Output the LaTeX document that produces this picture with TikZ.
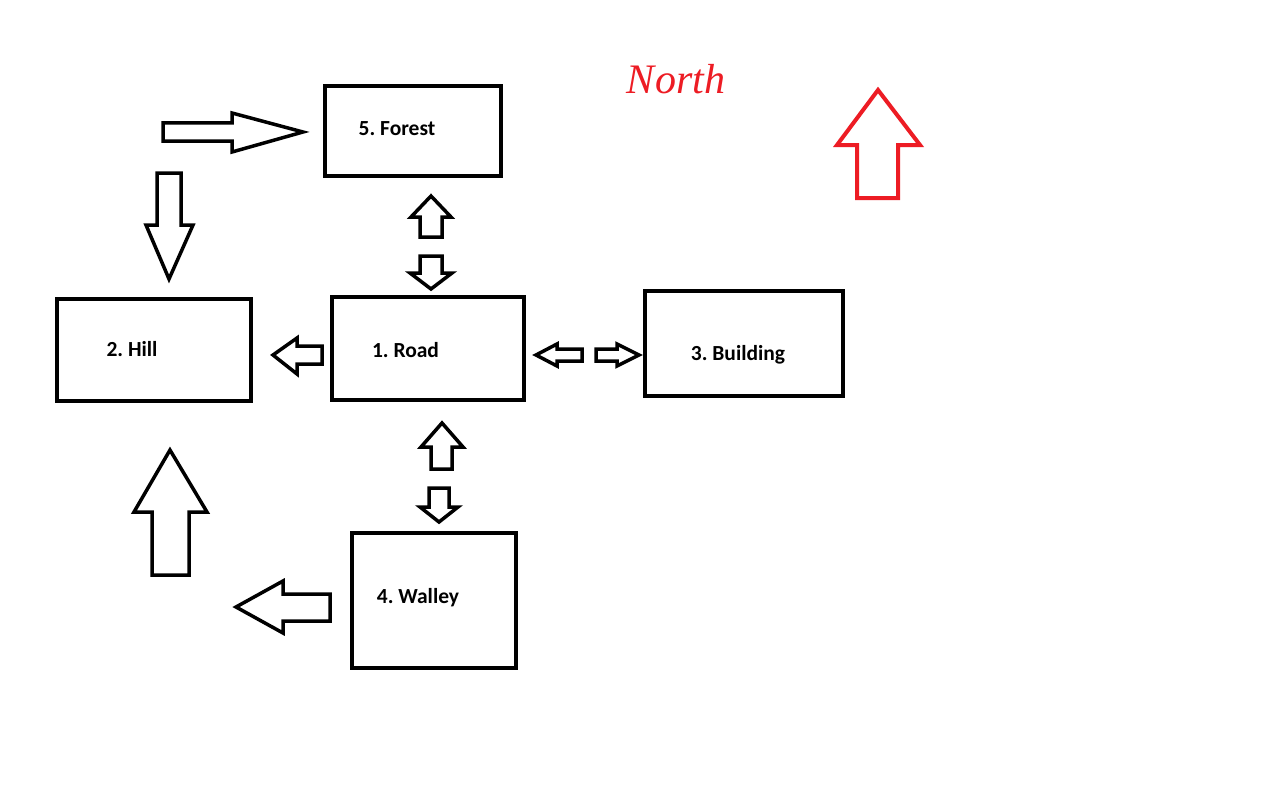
\documentclass[tikz,border=0pt]{standalone}
\usepackage{fontspec}
\setmainfont{Carlito}
\newfontfamily\northfont{Liberation Serif}
\definecolor{nred}{RGB}{237,28,36}
\begin{document}
\frenchspacing
\begin{tikzpicture}[x=1pt,y=-1pt,
  box/.style={draw=black,line width=4pt,inner sep=0pt},
  lbl/.style={font=\fontsize{21.5}{25}\selectfont\bfseries,inner sep=0pt,anchor=center},
  barrow/.style={draw=black,line width=3.5pt,line join=miter,fill=white},
  narrow/.style={draw=nred,line width=4pt,line join=miter}]
\useasboundingbox (0,0) rectangle (1284,789);
\fill[white] (0,0) rectangle (1284,789);
% boxes
\node[box,minimum width=176pt,minimum height=90pt] (forest) at (413,131) {};
\node[box,minimum width=194pt,minimum height=102pt] (hill) at (154,350) {};
\node[box,minimum width=192pt,minimum height=103pt] (road) at (428,348.5) {};
\node[box,minimum width=198pt,minimum height=105pt] (building) at (744,343.5) {};
\node[box,minimum width=164pt,minimum height=135pt] (walley) at (433.5,600) {};
% labels
\node[lbl] (forestlbl) at (397,129) {5. Forest};
\node[lbl] (hilllbl) at (132,349) {2. Hill};
\node[lbl] (roadlbl) at (405.5,350) {1. Road};
\node[lbl] (buildinglbl) at (738,355) {3. Building};
\node[lbl] (walleylbl) at (418,598) {4. Walley};
% North
\node[font=\fontsize{42}{46}\selectfont\northfont\itshape,text=nred,inner sep=0pt] (northlbl) at (676,79) {North};
\draw[narrow] (878,90) -- (920,145) -- (898,145) -- (898,198) -- (857,198) -- (857,145) -- (837,145) -- cycle;
% arrow: top-left right-pointing
\draw[barrow] (163,123) -- (232,123) -- (232,113) -- (303,132) -- (232,152) -- (232,141) -- (163,141) -- cycle;
% arrow: down to hill
\draw[barrow] (157,173) -- (181,173) -- (181,225) -- (193,225) -- (169,279) -- (146,225) -- (157,225) -- cycle;
% forest-road double
\draw[barrow] (431,196) -- (451,217) -- (442,217) -- (442,237) -- (420,237) -- (420,217) -- (411,217) -- cycle;
\draw[barrow] (420,256) -- (442,256) -- (442,273) -- (452,273) -- (431,289) -- (410,273) -- (420,273) -- cycle;
% road to hill
\draw[barrow] (273,355) -- (297,338) -- (297,346) -- (322,346) -- (322,364) -- (297,364) -- (297,374) -- cycle;
% road-building double
\draw[barrow] (536,355) -- (557,344) -- (557,349) -- (582,349) -- (582,361) -- (557,361) -- (557,366) -- cycle;
\draw[barrow] (596,349) -- (617,349) -- (617,344) -- (639,355) -- (617,366) -- (617,361) -- (596,361) -- cycle;
% road-walley double
\draw[barrow] (442,423) -- (463,447) -- (452,447) -- (452,469) -- (431,469) -- (431,447) -- (421,447) -- cycle;
\draw[barrow] (429,488) -- (449,488) -- (449,507) -- (458,507) -- (439,522) -- (420,507) -- (429,507) -- cycle;
% up arrow to hill
\draw[barrow] (170,450) -- (207,512) -- (189,512) -- (189,575) -- (152,575) -- (152,512) -- (134,512) -- cycle;
% walley left arrow
\draw[barrow] (236,607) -- (283,581) -- (283,594) -- (330,594) -- (330,621) -- (283,621) -- (283,633) -- cycle;
\end{tikzpicture}
\end{document}
